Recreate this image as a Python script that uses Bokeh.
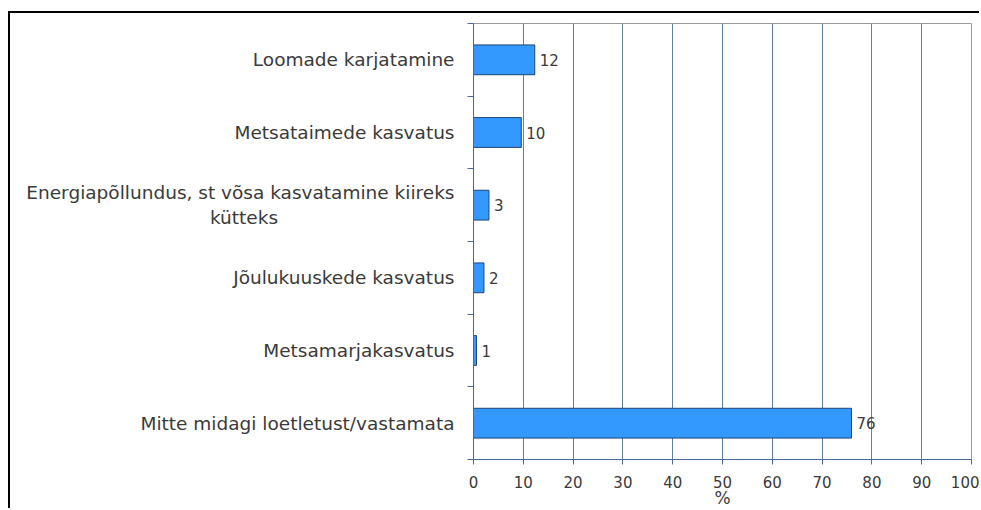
from bokeh.plotting import figure
from bokeh.models import FixedTicker, ColumnDataSource
from bokeh.embed import file_html
from bokeh.resources import INLINE

# Data (bottom to top)
categories = [
    "Mitte midagi loetletust/vastamata",
    "Metsamarjakasvatus",
    "Jõulukuuskede kasvatus",
    "Energiapõllundus, st võsa kasvatamine kiireks\nkütteks" + "\u00a0" * 30,
    "Metsataimede kasvatus",
    "Loomade karjatamine",
]
values = [75.9, 0.6, 2.1, 3.1, 9.6, 12.3]
x_ticks = [0, 10, 20, 30, 40, 50, 60, 70, 80, 90, 100]

pos = [i + 0.5 for i in range(len(categories))]
src = ColumnDataSource(dict(
    y=pos, v=values, lab=[str(round(v)) for v in values]))

FONT = "DejaVu Sans"
TXT = "#3a3a3a"
NAVY = "#4a6a93"

p = figure(width=971, height=497, output_backend="svg", toolbar_location=None,
           x_range=(0, 100), y_range=(0, len(categories)),
           min_border_left=463, min_border_right=10, min_border_top=10,
           min_border_bottom=50)
p.styles = {"border-top": "2px solid black", "border-left": "2px solid black",
            "margin-top": "11px", "margin-left": "8px"}

p.hbar(y="y", right="v", left=0, height=0.41, source=src,
       fill_color="#3399ff", line_color="#1d4478", line_width=1)
p.text(x="v", y="y", text="lab", source=src, x_offset=5,
       text_baseline="middle", text_align="left",
       text_font_size="15px", text_color=TXT, text_font={"value": FONT})

# x axis
p.xaxis.ticker = FixedTicker(ticks=x_ticks)
p.xaxis.axis_label = "%"
p.xaxis.axis_label_text_font = FONT
p.xaxis.axis_label_text_font_style = "normal"
p.xaxis.axis_label_text_font_size = "17px"
p.xaxis.axis_label_text_color = TXT
p.xaxis.axis_label_standoff = -3
p.xaxis.major_label_text_font = FONT
p.xaxis.major_label_text_font_size = "15px"
p.xaxis.major_label_text_color = TXT
p.xaxis.major_label_standoff = 11
p.xaxis.major_tick_in = 0
p.xaxis.major_tick_out = 5
p.xaxis.minor_tick_line_color = None
p.xaxis.axis_line_color = NAVY
p.xaxis.major_tick_line_color = NAVY

# y axis: labels at centers, ticks at boundaries
p.yaxis.ticker = FixedTicker(ticks=pos, minor_ticks=list(range(len(categories) + 1)))
p.yaxis.major_label_overrides = {pv: c for pv, c in zip(pos, categories)}
p.yaxis.major_label_text_font = FONT
p.yaxis.major_label_text_font_size = "18.5px"
p.yaxis.major_label_text_color = TXT
p.yaxis.major_label_standoff = 13
p.yaxis.major_tick_line_color = None
p.yaxis.minor_tick_in = 0
p.yaxis.minor_tick_out = 6
p.yaxis.minor_tick_line_color = NAVY
p.yaxis.axis_line_color = NAVY

p.ygrid.grid_line_color = None
p.xgrid.grid_line_color = "#5f80a8"
p.xgrid.grid_line_width = 1
p.outline_line_color = "#9a9a9a"
p.outline_line_width = 1

open("out.html", "w").write(file_html(p, INLINE))
